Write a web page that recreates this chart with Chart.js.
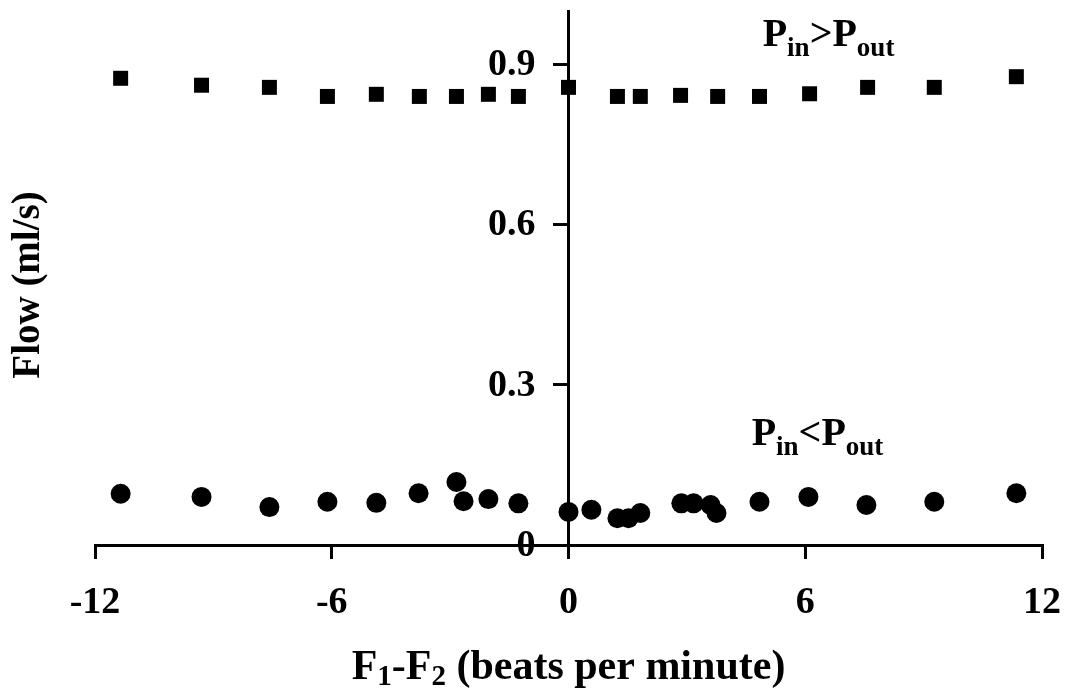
<!DOCTYPE html>
<html>
<head>
<meta charset="utf-8">
<script src="https://cdn.jsdelivr.net/npm/chart.js@4.4.1/dist/chart.umd.min.js"></script>
<style>
  body { margin: 0; background: #fff; }
  #wrap { width: 1065px; height: 688px; position: relative; }
</style>
</head>
<body>
<div id="wrap"><canvas id="flowChart"></canvas></div>
<script>
// data
const squareX = [-11.35, -9.3, -7.58, -6.11, -4.87, -3.78, -2.84, -2.03, -1.27, 0, 1.24, 1.82, 2.84, 3.78, 4.84, 6.11, 7.58, 9.27, 11.35];
const squareY = [0.874, 0.861, 0.857, 0.840, 0.844, 0.840, 0.840, 0.844, 0.840, 0.857, 0.840, 0.840, 0.842, 0.840, 0.840, 0.845, 0.857, 0.857, 0.877];

const circleX = [-11.35, -9.3, -7.58, -6.11, -4.87, -3.8, -2.84, -2.66, -2.03, -1.27, 0, 0.58, 1.24, 1.52, 1.82, 2.86, 3.17, 3.6, 3.75, 4.84, 6.08, 7.55, 9.27, 11.35];
const circleY = [0.096, 0.090, 0.071, 0.081, 0.079, 0.097, 0.118, 0.082, 0.086, 0.078, 0.062, 0.066, 0.050, 0.050, 0.060, 0.078, 0.078, 0.075, 0.060, 0.081, 0.090, 0.075, 0.081, 0.097];

const xTicks = [-12, -6, 0, 6, 12];
const yTicks = [0, 0.3, 0.6, 0.9];
const yTickLabels = ["0", "0.3", "0.6", "0.9"];

const SERIF = "'Liberation Serif', 'Times New Roman', serif";

function toPoints(xs, ys) {
    return xs.map((x, i) => ({ x: x, y: ys[i] }));
}

// draws a run of text pieces, some of them subscript
function drawRich(ctx, parts, x, y, size, drop) {
    const subSize = Math.round(size * 0.68);
    let total = 0;
    parts.forEach(p => {
        ctx.font = "bold " + (p.sub ? subSize : size) + "px " + SERIF;
        p.w = ctx.measureText(p.t).width;
        total += p.w;
    });
    let cx = x - total / 2;
    ctx.textBaseline = "alphabetic";
    ctx.textAlign = "left";
    parts.forEach(p => {
        ctx.font = "bold " + (p.sub ? subSize : size) + "px " + SERIF;
        ctx.fillText(p.t, cx, p.sub ? y + drop : y);
        cx += p.w;
    });
}

// no label overhang padding, the layout padding decides the plot box
function noOverhang(scale) {
    scale.paddingLeft = 0;
    scale.paddingRight = 0;
    scale.paddingTop = 0;
    scale.paddingBottom = 0;
}

const textPlugin = {
    id: "richText",
    afterDraw(chart, args, opts) {
        const ctx = chart.ctx;
        const xs = chart.scales.x;
        const ys = chart.scales.y;
        ctx.save();
        ctx.fillStyle = "#000";

        // y tick labels, left of the axis that sits at x = 0
        const axisX = xs.getPixelForValue(0);
        ctx.font = "bold 38px " + SERIF;
        ctx.textAlign = "right";
        ctx.textBaseline = "middle";
        yTicks.forEach((v, i) => {
            ctx.fillText(yTickLabels[i], axisX - 33, ys.getPixelForValue(v) + 1);
        });

        opts.notes.forEach(n => {
            drawRich(ctx, n.parts, xs.getPixelForValue(n.x), ys.getPixelForValue(n.y), n.size, 10);
        });
        // x axis title
        drawRich(ctx, opts.xTitle, (chart.chartArea.left + chart.chartArea.right) / 2, chart.height - 9, opts.xTitleSize, 6);
        // y axis title, rotated
        ctx.translate(29, (chart.chartArea.top + chart.chartArea.bottom) / 2 + 7);
        ctx.rotate(-Math.PI / 2);
        ctx.font = "bold " + opts.yTitleSize + "px " + SERIF;
        ctx.textAlign = "center";
        ctx.textBaseline = "middle";
        ctx.fillText("Flow (ml/s)", 0, 0);
        ctx.restore();
    }
};

const canvas = document.getElementById("flowChart");

new Chart(canvas.getContext("2d"), {
    type: "scatter",
    data: {
        datasets: [
            {
                label: "Pin>Pout",
                data: toPoints(squareX, squareY),
                pointStyle: "rect",
                pointRadius: 10.6,
                backgroundColor: "#000",
                borderColor: "#000",
                borderWidth: 0,
            },
            {
                label: "Pin<Pout",
                data: toPoints(circleX, circleY),
                pointStyle: "circle",
                pointRadius: 10,
                backgroundColor: "#000",
                borderColor: "#000",
                borderWidth: 0,
            },
        ],
    },
    options: {
        responsive: true,
        maintainAspectRatio: false,
        animation: false,
        layout: {
            padding: { left: 95, right: 23, top: 11, bottom: 62 },
        },
        plugins: {
            legend: { display: false },
            tooltip: { enabled: false },
            richText: {
                xTitleSize: 42,
                yTitleSize: 39,
                xTitle: [
                    { t: "F" }, { t: "1", sub: true }, { t: "-F" }, { t: "2", sub: true },
                    { t: " (beats per minute)" },
                ],
                notes: [
                    { x: 6.59, y: 0.934, size: 40, parts: [{ t: "P" }, { t: "in", sub: true }, { t: ">P" }, { t: "out", sub: true }] },
                    { x: 6.31, y: 0.1875, size: 40, parts: [{ t: "P" }, { t: "in", sub: true }, { t: "<P" }, { t: "out", sub: true }] },
                ],
            },
        },
        scales: {
            x: {
                type: "linear",
                position: "bottom",
                min: -12,
                max: 12,
                afterBuildTicks: (axis) => {
                    axis.ticks = xTicks.map(v => ({ value: v }));
                },
                afterFit: (scale) => {
                    noOverhang(scale);
                    scale.height = 81;
                },
                border: { color: "#000", width: 3 },
                grid: {
                    drawOnChartArea: false,
                    color: "#000",
                    lineWidth: 3,
                    tickLength: 14,
                },
                ticks: {
                    color: "#000",
                    padding: 21,
                    maxRotation: 0,
                    font: { family: SERIF, size: 38, weight: "bold" },
                },
            },
            y: {
                type: "linear",
                position: { x: 0 },
                min: 0,
                max: 1.0,
                afterBuildTicks: (axis) => {
                    axis.ticks = yTicks.map(v => ({ value: v }));
                },
                afterFit: noOverhang,
                border: { color: "#000", width: 3 },
                grid: {
                    drawOnChartArea: false,
                    color: "#000",
                    lineWidth: 3,
                    tickLength: 14,
                },
                ticks: {
                    display: false,
                },
            },
        },
    },
    plugins: [textPlugin],
});
</script>
</body>
</html>
